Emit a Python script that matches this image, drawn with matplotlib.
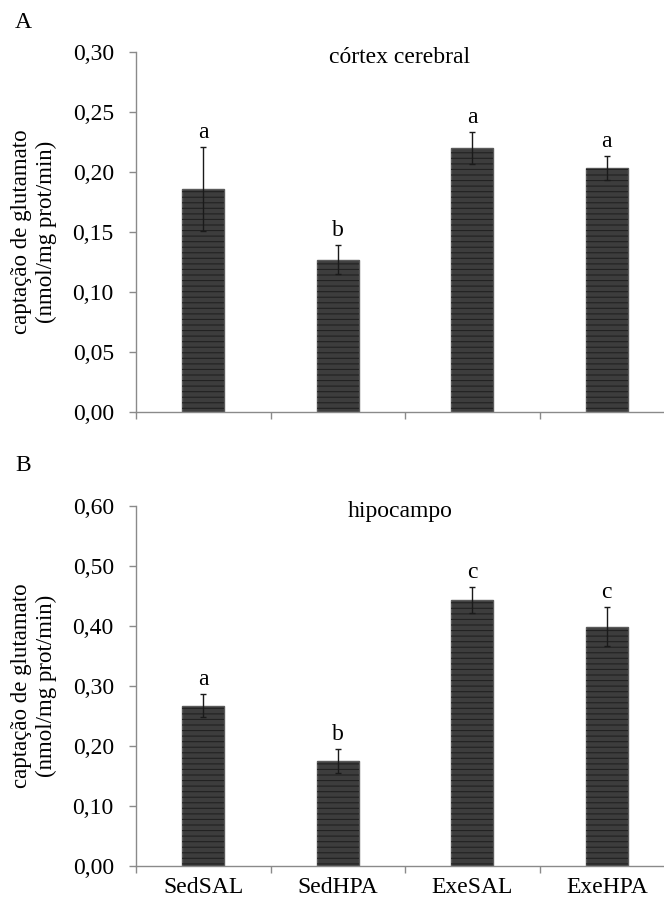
import numpy as np
import matplotlib.pyplot as plt
from matplotlib.ticker import FuncFormatter

plt.rcParams.update({
    'font.family': 'serif',
    'font.serif': ['Liberation Serif', 'DejaVu Serif'],
    'font.size': 17,
    'hatch.linewidth': 0.8,
})

# ---- data ----
groups = ['SedSAL', 'SedHPA', 'ExeSAL', 'ExeHPA']

cortex_mean = [0.186, 0.127, 0.220, 0.203]
cortex_err = [0.035, 0.012, 0.013, 0.010]
cortex_letters = ['a', 'b', 'a', 'a']

hipo_mean = [0.267, 0.175, 0.443, 0.399]
hipo_err = [0.019, 0.020, 0.022, 0.032]
hipo_letters = ['a', 'b', 'c', 'c']

W, H = 664, 906
fig = plt.figure(figsize=(W / 100, H / 100), dpi=100)

SPINE = '#8a8a8a'
BAR = '#3d3d3d'


def panel(rect, means, errs, letters, ymax, step, title, tag, tag_y, show_labels):
    ax = fig.add_axes(rect)
    x = np.arange(len(means))
    # bar body
    ax.bar(x, means, width=0.31, color=BAR, edgecolor='#5a5a5a', linewidth=1.0, zorder=2)
    # horizontal stripes
    ax.bar(x, means, width=0.31, color='none', edgecolor='#222222', linewidth=0,
           hatch='---', zorder=3)
    ax.errorbar(x, means, yerr=errs, fmt='none', ecolor='#1a1a1a', elinewidth=1.0,
                capsize=2, capthick=1.0, zorder=4)
    for xi, m, e, t in zip(x, means, errs, letters):
        ax.annotate(t, (xi, m + e), xytext=(0, 3), textcoords='offset points',
                    ha='center', va='bottom', fontsize=17)

    ax.set_ylim(0, ymax)
    ax.set_yticks(np.arange(0, ymax + step / 2, step))
    ax.yaxis.set_major_formatter(FuncFormatter(lambda v, p: f'{v:.2f}'.replace('.', ',')))
    ax.set_xlim(-0.5, -0.5 + (W - 136) / 134.5)
    ax.set_xticks(np.arange(len(means)) - 0.5)
    ax.set_xticklabels([])
    ax.set_xticks(x, minor=True)
    ax.tick_params(axis='x', which='minor', length=0, pad=8)
    if show_labels:
        ax.set_xticklabels(groups, minor=True, fontsize=17)
    ax.tick_params(axis='both', which='major', direction='out', length=5,
                   color=SPINE, width=1.0)
    ax.tick_params(axis='y', pad=11, labelsize=17)

    for s in ['top', 'right']:
        ax.spines[s].set_visible(False)
    for s in ['left', 'bottom']:
        ax.spines[s].set_color(SPINE)
        ax.spines[s].set_linewidth(1.0)

    ax.text(0.5, 0.985, title, transform=ax.transAxes, ha='center', va='center', fontsize=17)
    ax.set_ylabel('captação de glutamato\n(nmol/mg prot/min)', fontsize=16.5, linespacing=1.25)
    ax.yaxis.set_label_coords(-0.15, 0.5)
    fig.text(15 / W, 1 - tag_y / H, tag, ha='left', va='center', fontsize=17)
    return ax


left = 136 / W
width = 1 - left
panel([left, 1 - 412 / H, width, 360 / H], cortex_mean, cortex_err, cortex_letters,
      0.30, 0.05, 'córtex cerebral', 'A', 22, False)
panel([left, 1 - 866 / H, width, 360 / H], hipo_mean, hipo_err, hipo_letters,
      0.60, 0.10, 'hipocampo', 'B', 466, True)

fig.savefig('out.png', dpi=100)
